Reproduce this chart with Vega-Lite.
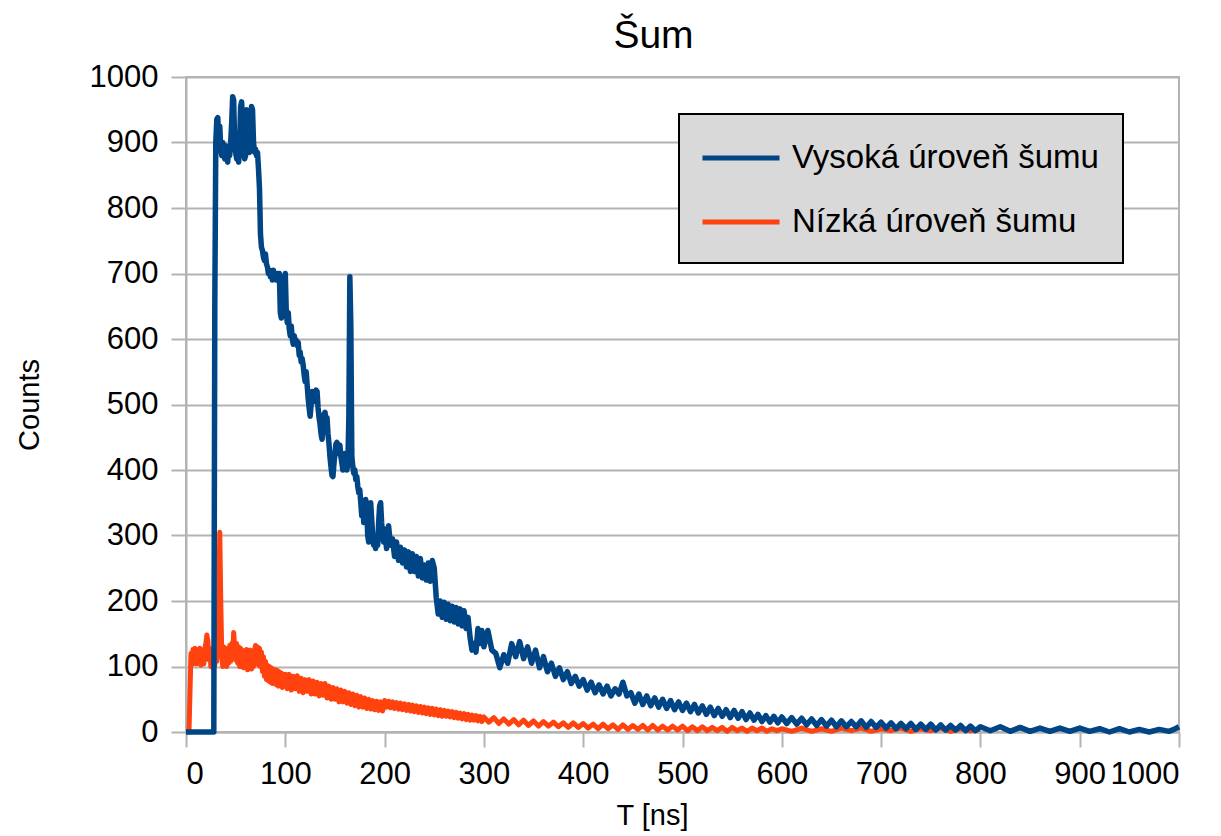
{
"$schema":"https://vega.github.io/schema/vega-lite/v6.json",
"width":993,"height":655,
"autosize":{"type":"none"},
"padding":{"left":186,"top":77,"right":42,"bottom":104},
"background":"white",
"title":{"text":"Šum","fontSize":39,"font":"Liberation Sans","fontWeight":"normal","color":"#000000","frame":"group","anchor":"middle","dx":-29,"baseline":"bottom","offset":-34},
"config":{
"view":{"stroke":"#b3b3b3","strokeWidth":2},
"axis":{"labelFont":"Liberation Sans","titleFont":"Liberation Sans","labelColor":"#000000","titleColor":"#000000","titleFontWeight":"normal","domainColor":"#b3b3b3","domainWidth":2,"tickColor":"#b3b3b3","tickWidth":2,"tickSize":15,"gridColor":"#b3b3b3","gridWidth":2,"labelFontSize":31,"titleFontSize":29,"format":"d","labelOverlap":false}
},
"layer":[
{"data":{"values":[
{"t":0,"c":0},{"t":3,"c":0},{"t":4,"c":60},{"t":5,"c":120},{"t":6,"c":108},{"t":7,"c":126},{"t":8,"c":104},{"t":9,"c":128},{"t":10,"c":110},{"t":11,"c":104},{"t":12,"c":126},{"t":13,"c":108},{"t":14,"c":128},{"t":15,"c":102},{"t":16,"c":124},{"t":17,"c":110},{"t":18,"c":104},{"t":19,"c":128},{"t":20,"c":135},{"t":21,"c":148},{"t":22,"c":140},{"t":23,"c":110},{"t":24,"c":128},{"t":25,"c":100},{"t":26,"c":122},{"t":27,"c":98},{"t":28,"c":124},{"t":29,"c":102},{"t":30,"c":128},{"t":31,"c":108},{"t":32,"c":130},{"t":33,"c":200},{"t":34,"c":305},{"t":35,"c":200},
{"t":36,"c":120},{"t":37,"c":100},{"t":38,"c":130},{"t":39,"c":108},{"t":40,"c":125},{"t":41,"c":100},{"t":42,"c":128},{"t":43,"c":105},{"t":44,"c":132},{"t":45,"c":108},{"t":46,"c":135},{"t":47,"c":115},{"t":48,"c":152},{"t":49,"c":130},{"t":50,"c":110},{"t":51,"c":135},{"t":52,"c":105},{"t":53,"c":130},{"t":54,"c":100},{"t":55,"c":128},{"t":56,"c":104},{"t":57,"c":125},{"t":58,"c":98},{"t":59,"c":122},{"t":60,"c":100},{"t":61,"c":126},{"t":62,"c":95},{"t":63,"c":120},{"t":64,"c":98},{"t":65,"c":125},{"t":66,"c":96},{"t":67,"c":118},{"t":68,"c":100},{"t":69,"c":125},{"t":70,"c":132},{"t":71,"c":105},{"t":72,"c":130},{"t":73,"c":102},{"t":74,"c":128},{"t":75,"c":100},{"t":76,"c":122},{"t":77,"c":92},{"t":78,"c":115},{"t":79,"c":85},{"t":80,"c":108},{"t":81,"c":80},{"t":82,"c":102},{"t":83,"c":78},{"t":84,"c":100},{"t":85,"c":76},{"t":86,"c":98},{"t":87,"c":74},{"t":88,"c":96},{"t":89,"c":75},{"t":90,"c":95},{"t":91,"c":72},{"t":92,"c":94},{"t":93,"c":70},{"t":94,"c":92},{"t":95,"c":72},{"t":96,"c":90},{"t":97,"c":68},{"t":98,"c":88},{"t":99,"c":70},{"t":100,"c":88},
{"t":102,"c":66},{"t":104,"c":88},{"t":106,"c":64},{"t":108,"c":85},{"t":110,"c":66},{"t":112,"c":86},{"t":114,"c":62},{"t":116,"c":82},{"t":118,"c":60},{"t":120,"c":80},{"t":122,"c":62},{"t":124,"c":80},{"t":126,"c":58},{"t":128,"c":78},{"t":130,"c":58},{"t":132,"c":76},{"t":134,"c":55},{"t":136,"c":74},{"t":138,"c":56},{"t":140,"c":74},{"t":142,"c":52},{"t":144,"c":70},{"t":146,"c":50},{"t":148,"c":68},{"t":150,"c":50},{"t":152,"c":66},{"t":154,"c":46},{"t":156,"c":64},{"t":158,"c":46},{"t":160,"c":62},{"t":162,"c":44},{"t":164,"c":60},{"t":166,"c":42},{"t":168,"c":58},{"t":170,"c":40},{"t":172,"c":56},{"t":174,"c":38},{"t":176,"c":54},{"t":178,"c":38},{"t":180,"c":52},{"t":182,"c":36},{"t":184,"c":50},{"t":186,"c":35},{"t":188,"c":48},{"t":190,"c":34},{"t":192,"c":47},{"t":194,"c":33},{"t":196,"c":46},{"t":198,"c":32},
{"t":200,"c":48},{"t":202,"c":38},{"t":204,"c":47},{"t":206,"c":37},{"t":208,"c":46},{"t":210,"c":36},{"t":212,"c":45},{"t":214,"c":35},{"t":216,"c":44},{"t":218,"c":34},{"t":220,"c":43},{"t":222,"c":33},{"t":224,"c":42},{"t":226,"c":32},{"t":228,"c":41},{"t":230,"c":31},{"t":232,"c":40},{"t":234,"c":30},{"t":236,"c":39},{"t":238,"c":29},{"t":240,"c":38},{"t":242,"c":28},{"t":244,"c":37},{"t":246,"c":27},{"t":248,"c":36},{"t":250,"c":26},{"t":252,"c":35},{"t":254,"c":25},{"t":256,"c":34},{"t":258,"c":24},{"t":260,"c":33},{"t":262,"c":24},{"t":264,"c":32},{"t":266,"c":23},{"t":268,"c":31},{"t":270,"c":22},{"t":272,"c":30},{"t":274,"c":21},{"t":276,"c":29},{"t":278,"c":20},{"t":280,"c":28},{"t":282,"c":19},{"t":284,"c":27},{"t":286,"c":18},{"t":288,"c":26},{"t":290,"c":18},{"t":292,"c":25},{"t":294,"c":17},{"t":296,"c":24},{"t":298,"c":16},{"t":300,"c":23},
{"t":305,"c":15},{"t":310,"c":22},{"t":315,"c":13},{"t":320,"c":20},{"t":325,"c":12},{"t":330,"c":19},{"t":335,"c":11},{"t":340,"c":18},{"t":345,"c":10},{"t":350,"c":17},{"t":355,"c":9},{"t":360,"c":16},{"t":365,"c":9},{"t":370,"c":15},{"t":375,"c":8},{"t":380,"c":14},{"t":385,"c":7},{"t":390,"c":14},{"t":395,"c":7},{"t":400,"c":13},{"t":405,"c":6},{"t":410,"c":12},{"t":415,"c":5},{"t":420,"c":12},{"t":425,"c":5},{"t":430,"c":11},{"t":435,"c":4},{"t":440,"c":11},{"t":445,"c":4},{"t":450,"c":10},{"t":455,"c":4},{"t":460,"c":10},{"t":465,"c":3},{"t":470,"c":10},{"t":475,"c":3},{"t":480,"c":9},{"t":485,"c":3},{"t":490,"c":9},{"t":495,"c":3},{"t":500,"c":9},{"t":505,"c":2},{"t":510,"c":8},{"t":515,"c":2},{"t":520,"c":8},{"t":525,"c":2},{"t":530,"c":7},{"t":535,"c":2},{"t":540,"c":7},{"t":545,"c":1},{"t":550,"c":7},{"t":555,"c":2},{"t":560,"c":6},{"t":565,"c":1},{"t":570,"c":6},{"t":575,"c":2},{"t":580,"c":6},{"t":585,"c":1},{"t":590,"c":5},{"t":595,"c":2},{"t":600,"c":5},{"t":610,"c":1},{"t":620,"c":6},{"t":630,"c":1},{"t":640,"c":5},{"t":650,"c":1},{"t":660,"c":6},{"t":670,"c":2},{"t":680,"c":6},{"t":690,"c":1},{"t":700,"c":5},{"t":710,"c":2},{"t":720,"c":6},{"t":730,"c":1},{"t":740,"c":5},{"t":750,"c":2},{"t":760,"c":6},{"t":770,"c":1},{"t":780,"c":5},{"t":790,"c":2},{"t":800,"c":4}
]},
"mark":{"type":"line","strokeWidth":5,"strokeJoin":"round"},
"encoding":{
"x":{"field":"t","type":"quantitative","scale":{"domain":[0,1000],"nice":false},"axis":{"title":"T [ns]","grid":false,"values":[0,100,200,300,400,500,600,700,800,900,1000],"labelPadding":12,"titlePadding":12,"titleX":466}},
"y":{"field":"c","type":"quantitative","scale":{"domain":[0,1000],"nice":false},"axis":{"title":"Counts","grid":true,"values":[0,100,200,300,400,500,600,700,800,900,1000],"labelPadding":13,"titlePadding":45}},
"color":{"datum":"Nízká úroveň šumu","type":"nominal","scale":{"domain":["Vysoká úroveň šumu","Nízká úroveň šumu"],"range":["#004586","#ff420e"]},"legend":{"orient":"none","legendX":493,"legendY":37,"title":null,"fillColor":"#d9d9d9","strokeColor":"#000000","padding":24,"symbolType":"M-2.2,0H2.2","symbolSize":1225,"symbolStrokeWidth":5,"symbolOffset":18,"labelFontSize":33,"labelFont":"Liberation Sans","labelColor":"#000000","labelOffset":31,"rowPadding":27,"labelLimit":0,"encode":{"legend":{"update":{"strokeWidth":{"value":2}}}}}}
}},
{"data":{"values":[
{"t":0,"c":0},{"t":10,"c":0},{"t":20,"c":0},{"t":28,"c":0},{"t":29,"c":650},{"t":30,"c":900},{"t":31,"c":935},{"t":32,"c":938},{"t":33,"c":905},{"t":34,"c":925},{"t":35,"c":890},{"t":36,"c":880},{"t":37,"c":900},{"t":38,"c":885},{"t":39,"c":875},{"t":40,"c":895},{"t":41,"c":880},{"t":42,"c":870},{"t":43,"c":890},{"t":44,"c":880},{"t":45,"c":900},{"t":46,"c":930},{"t":47,"c":970},{"t":48,"c":965},{"t":49,"c":900},{"t":50,"c":885},{"t":51,"c":875},{"t":52,"c":880},{"t":53,"c":870},{"t":54,"c":900},{"t":55,"c":955},{"t":56,"c":962},{"t":57,"c":930},{"t":58,"c":885},{"t":59,"c":875},{"t":60,"c":880},{"t":61,"c":950},{"t":62,"c":935},{"t":63,"c":890},{"t":64,"c":885},{"t":65,"c":900},{"t":66,"c":955},{"t":67,"c":950},{"t":68,"c":900},{"t":69,"c":885},{"t":70,"c":890},{"t":71,"c":880},{"t":72,"c":885},{"t":73,"c":860},{"t":74,"c":830},{"t":75,"c":760},{"t":76,"c":740},{"t":77,"c":735},{"t":78,"c":725},{"t":79,"c":720},{"t":80,"c":730},{"t":81,"c":715},{"t":82,"c":710},{"t":83,"c":700},{"t":84,"c":705},{"t":85,"c":695},{"t":86,"c":700},{"t":87,"c":690},{"t":88,"c":705},{"t":89,"c":695},{"t":90,"c":700},{"t":91,"c":690},{"t":92,"c":700},{"t":93,"c":695},{"t":94,"c":700},{"t":95,"c":640},{"t":96,"c":632},{"t":97,"c":660},{"t":98,"c":640},{"t":99,"c":695},{"t":100,"c":700},{"t":101,"c":640},{"t":102,"c":625},{"t":103,"c":640},{"t":104,"c":615},{"t":105,"c":605},{"t":106,"c":620},{"t":107,"c":600},{"t":108,"c":592},{"t":109,"c":605},{"t":110,"c":595},{"t":111,"c":598},{"t":112,"c":590},{"t":113,"c":595},{"t":114,"c":575},{"t":115,"c":580},{"t":116,"c":565},{"t":117,"c":570},{"t":118,"c":560},{"t":119,"c":545},{"t":120,"c":535},{"t":121,"c":550},{"t":122,"c":530},{"t":123,"c":510},{"t":124,"c":495},{"t":125,"c":482},{"t":126,"c":500},{"t":127,"c":520},{"t":128,"c":515},{"t":129,"c":505},{"t":130,"c":515},{"t":131,"c":522},{"t":132,"c":520},{"t":133,"c":495},{"t":134,"c":480},{"t":135,"c":470},{"t":136,"c":455},{"t":137,"c":447},{"t":138,"c":465},{"t":139,"c":485},{"t":140,"c":488},{"t":141,"c":475},{"t":142,"c":480},{"t":143,"c":455},{"t":144,"c":440},{"t":145,"c":420},{"t":146,"c":405},{"t":147,"c":392},{"t":148,"c":390},{"t":149,"c":410},{"t":150,"c":425},{"t":151,"c":440},{"t":152,"c":442},{"t":153,"c":430},{"t":154,"c":425},{"t":155,"c":438},{"t":156,"c":420},{"t":157,"c":410},{"t":158,"c":400},{"t":159,"c":415},{"t":160,"c":425},{"t":161,"c":410},{"t":162,"c":400},{"t":163,"c":410},{"t":164,"c":480},{"t":165,"c":695},{"t":166,"c":620},{"t":167,"c":420},{"t":168,"c":405},{"t":169,"c":395},{"t":170,"c":400},{"t":171,"c":385},{"t":172,"c":390},{"t":173,"c":375},{"t":174,"c":365},{"t":175,"c":370},{"t":176,"c":350},{"t":177,"c":330},{"t":178,"c":350},{"t":179,"c":320},{"t":180,"c":345},{"t":181,"c":355},{"t":182,"c":340},{"t":183,"c":300},{"t":184,"c":290},{"t":185,"c":330},{"t":186,"c":350},{"t":187,"c":325},{"t":188,"c":300},{"t":189,"c":285},{"t":190,"c":295},{"t":191,"c":280},{"t":192,"c":300},{"t":193,"c":285},{"t":194,"c":320},{"t":195,"c":345},{"t":196,"c":350},{"t":197,"c":320},{"t":198,"c":300},{"t":199,"c":290},
{"t":200,"c":310},{"t":202,"c":280},{"t":204,"c":315},{"t":206,"c":285},{"t":208,"c":295},{"t":210,"c":268},{"t":212,"c":290},{"t":214,"c":262},{"t":216,"c":282},{"t":218,"c":258},{"t":220,"c":278},{"t":222,"c":252},{"t":224,"c":275},{"t":226,"c":245},{"t":228,"c":272},{"t":230,"c":245},{"t":232,"c":268},{"t":234,"c":238},{"t":236,"c":265},{"t":238,"c":235},{"t":240,"c":255},{"t":242,"c":232},{"t":244,"c":258},{"t":246,"c":230},{"t":248,"c":262},{"t":250,"c":250},{"t":252,"c":205},{"t":254,"c":180},{"t":256,"c":200},{"t":258,"c":175},{"t":260,"c":198},{"t":262,"c":172},{"t":264,"c":195},{"t":266,"c":170},{"t":268,"c":192},{"t":270,"c":168},{"t":272,"c":190},{"t":274,"c":165},{"t":276,"c":188},{"t":278,"c":162},{"t":280,"c":185},{"t":282,"c":158},{"t":284,"c":175},{"t":286,"c":145},{"t":288,"c":125},{"t":290,"c":135},{"t":292,"c":122},{"t":294,"c":158},{"t":296,"c":135},{"t":298,"c":155},{"t":300,"c":130},
{"t":304,"c":155},{"t":308,"c":125},{"t":312,"c":120},{"t":316,"c":98},{"t":320,"c":118},{"t":324,"c":105},{"t":328,"c":135},{"t":332,"c":115},{"t":336,"c":138},{"t":340,"c":112},{"t":344,"c":130},{"t":348,"c":105},{"t":352,"c":125},{"t":356,"c":98},{"t":360,"c":115},{"t":364,"c":92},{"t":368,"c":105},{"t":372,"c":85},{"t":376,"c":98},{"t":380,"c":80},{"t":384,"c":92},{"t":388,"c":74},{"t":392,"c":85},{"t":396,"c":70},{"t":400,"c":80},{"t":404,"c":64},{"t":408,"c":76},{"t":412,"c":60},{"t":416,"c":72},{"t":420,"c":58},{"t":424,"c":70},{"t":428,"c":55},{"t":432,"c":66},{"t":436,"c":58},{"t":440,"c":76},{"t":444,"c":55},{"t":448,"c":60},{"t":452,"c":44},{"t":456,"c":58},{"t":460,"c":42},{"t":464,"c":55},{"t":468,"c":40},{"t":472,"c":52},{"t":476,"c":38},{"t":480,"c":50},{"t":484,"c":36},{"t":488,"c":48},{"t":492,"c":34},{"t":496,"c":46},{"t":500,"c":33},{"t":504,"c":44},{"t":508,"c":31},{"t":512,"c":42},{"t":516,"c":29},{"t":520,"c":40},{"t":524,"c":27},{"t":528,"c":38},{"t":532,"c":25},{"t":536,"c":36},{"t":540,"c":24},{"t":544,"c":34},{"t":548,"c":22},{"t":552,"c":33},{"t":556,"c":21},{"t":560,"c":31},{"t":564,"c":19},{"t":568,"c":29},{"t":572,"c":18},{"t":576,"c":27},{"t":580,"c":16},{"t":584,"c":25},{"t":588,"c":15},{"t":592,"c":24},{"t":596,"c":14},{"t":600,"c":23},
{"t":605,"c":13},{"t":610,"c":22},{"t":615,"c":12},{"t":620,"c":21},{"t":625,"c":11},{"t":630,"c":20},{"t":635,"c":10},{"t":640,"c":19},{"t":645,"c":9},{"t":650,"c":18},{"t":655,"c":8},{"t":660,"c":17},{"t":665,"c":8},{"t":670,"c":16},{"t":675,"c":8},{"t":680,"c":17},{"t":685,"c":7},{"t":690,"c":16},{"t":695,"c":7},{"t":700,"c":15},{"t":705,"c":6},{"t":710,"c":14},{"t":715,"c":5},{"t":720,"c":13},{"t":725,"c":5},{"t":730,"c":13},{"t":735,"c":4},{"t":740,"c":12},{"t":745,"c":4},{"t":750,"c":12},{"t":755,"c":3},{"t":760,"c":11},{"t":765,"c":3},{"t":770,"c":10},{"t":775,"c":3},{"t":780,"c":10},{"t":785,"c":2},{"t":790,"c":9},{"t":795,"c":2},{"t":800,"c":8},{"t":810,"c":2},{"t":820,"c":8},{"t":830,"c":1},{"t":840,"c":7},{"t":850,"c":1},{"t":860,"c":6},{"t":870,"c":1},{"t":880,"c":6},{"t":890,"c":1},{"t":900,"c":6},{"t":910,"c":1},{"t":920,"c":5},{"t":930,"c":0},{"t":940,"c":5},{"t":950,"c":0},{"t":960,"c":4},{"t":970,"c":0},{"t":980,"c":4},{"t":990,"c":1},{"t":995,"c":4},{"t":1000,"c":8}
]},
"mark":{"type":"line","strokeWidth":5.5,"strokeJoin":"round"},
"encoding":{
"x":{"field":"t","type":"quantitative"},
"y":{"field":"c","type":"quantitative"},
"color":{"datum":"Vysoká úroveň šumu","type":"nominal"}
}}
]
}
